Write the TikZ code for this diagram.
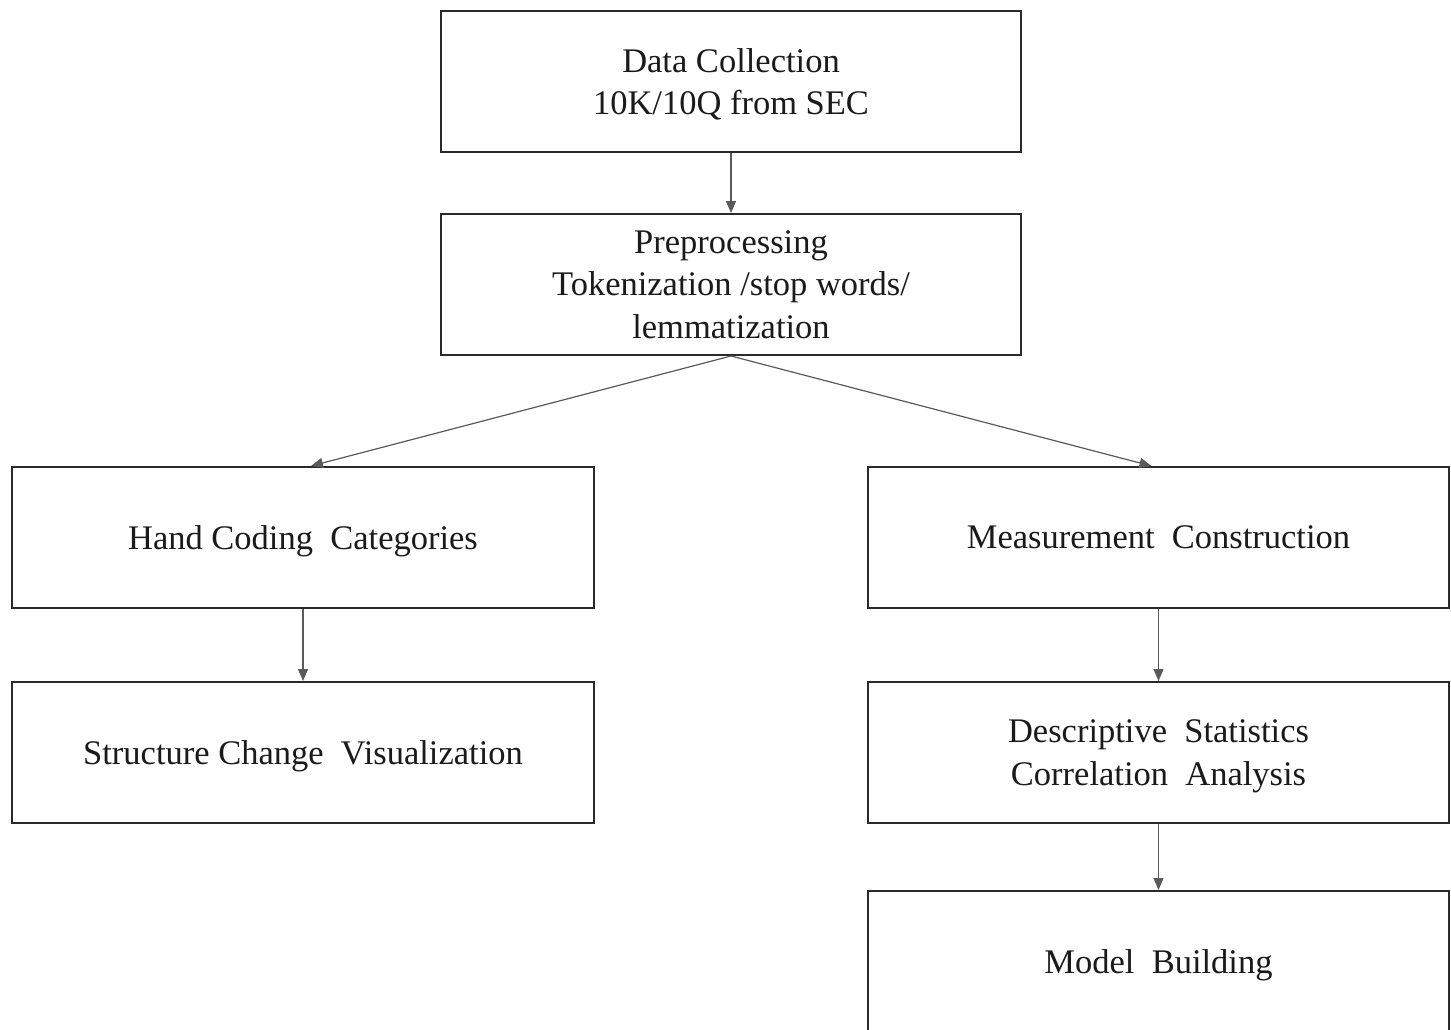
\documentclass[tikz,border=0pt]{standalone}
\usepackage{fontspec}
\setmainfont{Liberation Serif}
\usetikzlibrary{arrows.meta}
\definecolor{boxline}{HTML}{2A2A2A}
\definecolor{arrowline}{HTML}{5A5A5A}
\definecolor{txt}{HTML}{1A1A1A}
\begin{document}
\begin{tikzpicture}[x=1pt,y=-1pt,
  stepbox/.style={draw=boxline, line width=2pt, minimum width=581pt, minimum height=141pt,
    anchor=north west, inner sep=0pt, align=center, text=txt, text depth=0pt,
    font=\fontsize{34.5}{42.5}\selectfont},
  conn/.style={draw=arrowline, line width=1.2pt, -{Triangle[length=12pt,width=10pt]}, arrowline},
]
\clip (0,0) rectangle (1451,1029);
\fill[white] (0,0) rectangle (1451,1029);
\node[stepbox, minimum width=580pt] (dc) at (440,10) {Data Collection\\10K/10Q from SEC};
\node[stepbox, minimum width=580pt] (pp) at (440,213) {Preprocessing\\Tokenization /stop words/\\lemmatization};
\node[stepbox, minimum width=582pt] (hc) at (11,466) {Hand Coding\ \ Categories};
\node[stepbox, minimum width=582pt] (sc) at (11,681) {Structure\ Change\ \ Visualization};
\node[stepbox] (mc) at (867,466) {Measurement\ \ Construction};
\node[stepbox] (ds) at (867,681) {Descriptive\ \ Statistics\\Correlation\ \ Analysis};
\node[stepbox] (mb) at (867,890) {Model\ \ Building};
\draw[conn] (dc.south) -- (pp.north);
\draw[conn] (pp.south) -- ([xshift=8pt]hc.north);
\draw[conn] (pp.south) -- ([xshift=-7pt]mc.north);
\draw[conn] (hc.south) -- (sc.north);
\draw[conn] (mc.south) -- (ds.north);
\draw[conn] (ds.south) -- (mb.north);
\end{tikzpicture}
\end{document}
